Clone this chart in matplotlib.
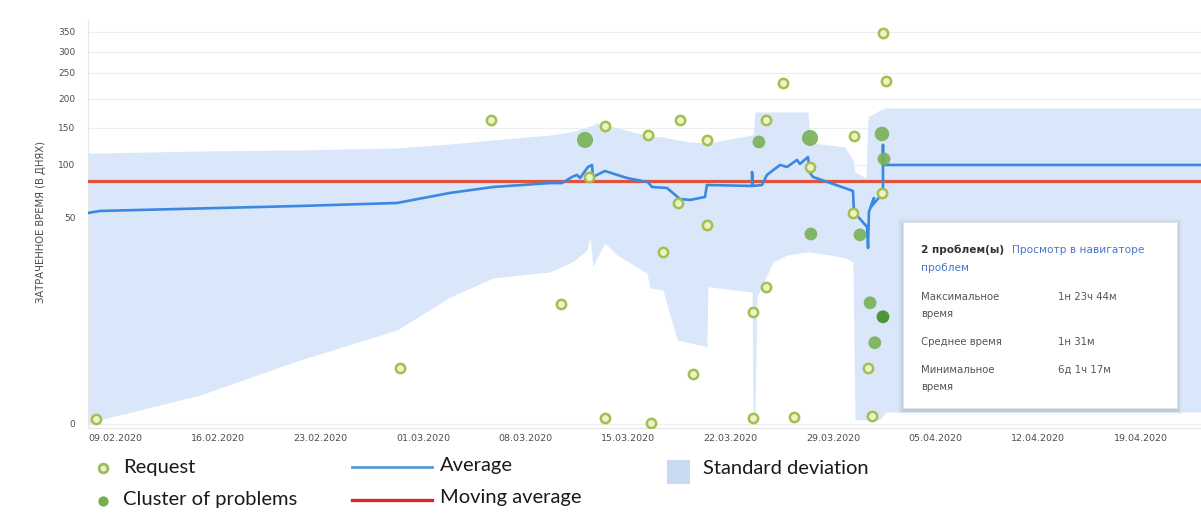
import numpy as np
import matplotlib
matplotlib.use('Agg')
import matplotlib.pyplot as plt
import matplotlib.dates as mdates
from matplotlib.patches import Rectangle

# days counted from 09.02.2020
start = mdates.datestr2num('2020-02-09')

req_days = [-1.33, 19.42, 25.63, 30.41, 32.32, 33.41, 33.41, 36.35, 36.55, 37.37,
            38.53, 38.40, 40.37, 40.37, 39.42, 43.52, 43.52, 45.56, 44.40, 44.40,
            46.31, 47.41, 50.41, 50.34, 52.32, 52.39, 52.59, 51.37, 51.65]
req_vals = [1.2, 13.6, 163.8, 29.1, 88.7, 153.4, 1.5, 140.5, 0.2, 41.7,
            163.8, 64.1, 133.8, 48.3, 12.1, 27.2, 1.5, 230.8, 163.8, 33.3,
            1.7, 98.1, 139.2, 54.7, 73.6, 347.5, 234.6, 13.6, 1.9]

clu_days = [32.05, 43.92, 47.41, 47.47, 52.32, 52.46, 50.82, 51.51, 52.39, 51.83]
clu_vals = [133.8, 131.1, 136.5, 46.1, 141.9, 108.1, 45.9, 29.4, 26.0, 19.7]
clu_count = [4, 2, 4, 2, 3, 2, 2, 2, 2, 2]
selected = 8

avg_days = [-1.88, -1.06, 12.6, 19.2, 22.83, 25.77, 29.66, 30.48, 31.16, 31.50,
            31.71, 32.25, 32.53, 32.59, 33.41, 34.91, 36.35, 36.62, 37.64, 38.53,
            39.22, 40.24, 40.37, 43.45, 43.45, 43.52, 44.13, 44.47, 45.36, 45.84,
            46.52, 46.72, 47.27, 47.41, 47.61, 50.34, 50.41, 51.30, 51.37, 51.43,
            51.78, 51.57, 52.39, 52.39, 52.39, 74.10]
avg_vals = [54.7, 56.6, 61.3, 64.1, 73.6, 79.2, 82.9, 82.9, 88.7, 90.6,
            87.7, 98.1, 100.0, 88.7, 94.3, 87.7, 83.8, 79.2, 78.3, 67.9,
            67.0, 69.8, 81.1, 80.2, 93.4, 80.2, 81.1, 90.6, 100.0, 98.1,
            106.8, 101.4, 110.8, 92.4, 88.7, 75.5, 55.7, 47.8, 42.7, 55.7,
            68.9, 60.4, 73.6, 127.0, 100.0, 100.0]

ma_days = [-1.88, 74.10]
ma_vals = [85, 85]

band_days = [-1.88, -1.06, 5.77, 12.59, 19.21, 22.83, 25.77, 29.66, 31.02, 31.37,
             32.18, 32.39, 32.59, 32.87, 33.41, 34.23, 35.60, 36.28, 36.48, 37.37,
             38.33, 39.22, 40.37, 40.44, 43.45, 43.52, 43.65, 43.79, 44.88, 45.84,
             46.72, 47.27, 47.41, 48.77, 49.79, 50.34, 50.48, 51.23, 51.37, 52.18,
             52.59, 74.10]
band_high = [116.2, 116.2, 118.9, 120.3, 123.0, 128.4, 133.8, 140.5, 144.6, 145.9,
             151.7, 153.4, 155.2, 158.6, 155.2, 150.0, 143.2, 140.5, 139.2, 137.8,
             133.8, 131.1, 129.7, 129.7, 140.5, 140.5, 177.6, 177.6, 177.6, 177.6,
             177.6, 177.6, 129.7, 127.0, 124.3, 106.8, 93.4, 87.7, 169.0, 180.8,
             184.5, 184.5]
band_low = [0.0, 1.0, 7.0, 15.5, 22.8, 30.8, 35.4, 36.9, 39.1, 39.8,
            42.2, 45.4, 38.1, 40.3, 43.9, 41.0, 38.1, 36.6, 33.0, 32.5,
            20.4, 19.7, 18.7, 33.3, 32.0, 1.7, 1.7, 30.8, 39.3, 41.0,
            41.5, 41.7, 41.7, 41.0, 40.3, 39.3, 1.0, 1.0, 1.0, 1.0,
            2.9, 2.9]

y_ticks = [0, 50, 100, 150, 200, 250, 300, 350]
y_title = 'ЗАТРАЧЕННОЕ ВРЕМЯ (В ДНЯХ)'

tip_title = '2 проблем(ы)'
tip_link = ['Просмотр в навигаторе', 'проблем']
tip_rows = [(['Максимальное', 'время'], '1н 23ч 44м'),
            (['Среднее время'], '1н 31м'),
            (['Минимальное', 'время'], '6д 1ч 17м')]

# the chart's own non-linear value axis
scale_v = [-50, 0, 50, 100, 150, 200, 250, 300, 350, 450]
scale_h = [-206, 0, 206, 259, 296, 325, 351, 372, 392, 432]


def fwd(v):
    return np.interp(v, scale_v, scale_h)


def inv(h):
    return np.interp(h, scale_h, scale_v)


W, H = 1201, 513
fig = plt.figure(figsize=(W / 100, H / 100), dpi=100)
ax = fig.add_axes([88 / W, 1 - 428 / H, 1 - 88 / W, 408 / H])
ax.set_yscale('function', functions=(fwd, inv))

x = lambda d: start + np.asarray(d, dtype=float)

ax.fill_between(x(band_days), band_low, band_high, color='#dae7fa', lw=0, zorder=1)
ax.plot(x(ma_days), ma_vals, color='#e0533c', lw=2.3, zorder=3)
ax.plot(x(avg_days), avg_vals, color='#3b88e2', lw=1.9, zorder=4)

sizes = [35 + 25 * c for c in clu_count]
colors = ['#3f8f22' if i == selected else '#76b155' for i in range(len(clu_days))]
ax.scatter(x(clu_days), clu_vals, s=sizes, c=colors, alpha=0.9, lw=0, zorder=5)
ax.scatter(x(req_days), req_vals, s=45, facecolor='#eef3c6', edgecolor='#a3bf52',
           lw=1.8, zorder=6)

ax.set_ylim(-1, 380)
ax.set_xlim(x(-1.88), x(74.10))
ax.set_yticks(y_ticks)
ax.set_yticklabels([str(t) for t in y_ticks])
ax.set_xticks(x(np.arange(0, 71, 7)))
ax.xaxis.set_major_formatter(mdates.DateFormatter('%d.%m.%Y'))
ax.yaxis.grid(True, color='#ededed', lw=0.8)
ax.set_axisbelow(True)
for s in ['top', 'right']:
    ax.spines[s].set_visible(False)
for s in ['left', 'bottom']:
    ax.spines[s].set_color('#e6e6e6')
ax.tick_params(length=0, colors='#4d4d4d')
ax.tick_params(axis='y', labelsize=6.5, pad=9)
ax.tick_params(axis='x', labelsize=6.8, pad=4)

fig.text(41 / W, 1 - 222 / H, y_title, rotation=90, ha='center', va='center',
         fontsize=7.2, color='#4a4a4a')

# overlay in pixel coordinates for tooltip and legend
ov = fig.add_axes([0, 0, 1, 1], zorder=10)
ov.set_xlim(0, W)
ov.set_ylim(H, 0)
ov.axis('off')
ov.patch.set_alpha(0)

for d, a in [(5, 0.025), (3, 0.04), (1.5, 0.06)]:
    ov.add_patch(Rectangle((903 - d, 222 - d + 2), 274 + 2 * d, 186 + 2 * d,
                           color='black', alpha=a, lw=0))
ov.add_patch(Rectangle((903, 222), 274, 186, facecolor='white', edgecolor='#e4e4e4', lw=0.6))

ov.text(921, 250, tip_title, fontsize=7.6, fontweight='bold', color='#333333', va='center')
ov.text(1012, 250, tip_link[0], fontsize=7.6, color='#4677cc', va='center')
ov.text(921, 268, tip_link[1], fontsize=7.6, color='#4677cc', va='center')
row_y = [297, 342, 370]
for (label, value), yy in zip(tip_rows, row_y):
    for k, part in enumerate(label):
        ov.text(921, yy + 17 * k, part, fontsize=7.3, color='#555555', va='center')
    ov.text(1058, yy, value, fontsize=7.3, color='#555555', va='center')

# legend
lf = dict(fontsize=14.5, color='#1a1a1a', va='center', family='Lato')
ov.scatter([103], [468], s=40, facecolor='#e9efcf', edgecolor='#9dbb57', lw=2, clip_on=False)
ov.text(123, 467, 'Request', **lf)
ov.scatter([103], [501], s=55, color='#74b050', lw=0, clip_on=False)
ov.text(123, 500, 'Cluster of problems', **lf)
ov.plot([352, 432], [467, 467], color='#5b9bd5', lw=2)
ov.text(440, 466, 'Average', **lf)
ov.plot([352, 432], [500, 500], color='#e2242a', lw=2.4)
ov.text(440, 497, 'Moving average', **lf)
ov.add_patch(Rectangle((667, 460), 23, 24, color='#c8daf1', lw=0))
ov.text(703, 469, 'Standard deviation', **lf)

fig.savefig('out.png', dpi=100)
